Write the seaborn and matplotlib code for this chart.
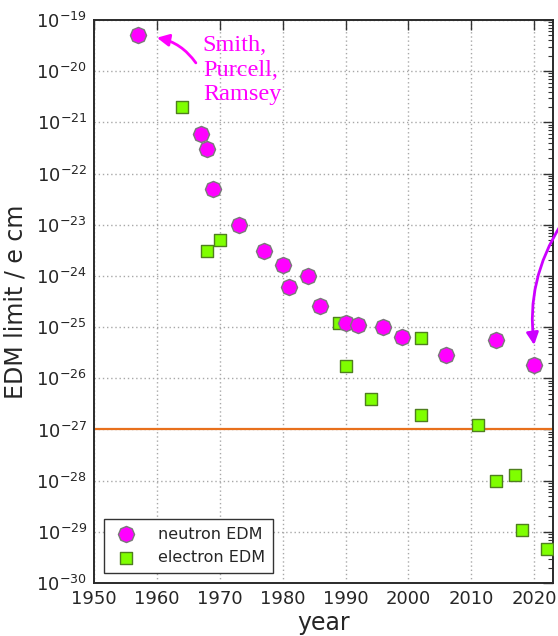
import matplotlib
matplotlib.use("Agg")
import matplotlib.pyplot as plt
import seaborn as sns
import pandas as pd
from matplotlib.ticker import FixedLocator, LogLocator, NullFormatter

# ---- data ----
neutron_year = [1957, 1967, 1968, 1969, 1973, 1977, 1980, 1981, 1984, 1986,
                1990, 1992, 1996, 1999, 2006, 2014, 2020]
neutron_limit = [5e-20, 6e-22, 3e-22, 5e-23, 1e-23, 3e-24, 1.6e-24, 6e-25, 1e-24, 2.6e-25,
                 1.2e-25, 1.1e-25, 1e-25, 6.3e-26, 2.9e-26, 5.6e-26, 1.8e-26]
electron_year = [1964, 1968, 1970, 1989, 1990, 1994, 2002, 2002, 2011, 2014, 2017, 2018, 2022]
electron_limit = [2e-21, 3e-24, 5e-24, 1.2e-25, 1.7e-26, 4e-27, 6e-26, 1.9e-27, 1.2e-27,
                  1e-28, 1.3e-28, 1.1e-29, 4.6e-30]
reference_level = 1e-27
x_ticks = [1950, 1960, 1970, 1980, 1990, 2000, 2010, 2020]
y_ticks = [1e-30, 1e-29, 1e-28, 1e-27, 1e-26, 1e-25, 1e-24, 1e-23, 1e-22, 1e-21, 1e-20, 1e-19]
series_labels = ["neutron EDM", "electron EDM"]
annotation_text = "Smith,\nPurcell,\nRamsey"

neutron_df = pd.DataFrame({"year": neutron_year, "limit": neutron_limit})
electron_df = pd.DataFrame({"year": electron_year, "limit": electron_limit})

sns.set_style("white")
plt.rcParams["font.family"] = ["DejaVu Sans"]
plt.rcParams["axes.unicode_minus"] = False

fig, ax = plt.subplots(figsize=(5.58, 6.36), dpi=100)
fig.subplots_adjust(left=0.1685, right=0.991, top=0.9686, bottom=0.0833)

octagon = (8, 0, 0)
sns.scatterplot(data=neutron_df, x="year", y="limit", marker=octagon, s=135,
                color="#ff00ff", edgecolor="#7a7a7a", linewidth=1.0,
                label=series_labels[0], ax=ax, zorder=4)
sns.scatterplot(data=electron_df, x="year", y="limit", marker="s", s=70,
                color="#7fff00", edgecolor="#4f7f1f", linewidth=1.0,
                label=series_labels[1], ax=ax, zorder=3)

ax.axhline(reference_level, color="#e8701c", lw=1.6, zorder=2)

ax.set_yscale("log")
ax.set_xlim(1950, 2023)
ax.set_ylim(1e-30, 1e-19)
ax.set_xticks(x_ticks)
ax.yaxis.set_major_locator(FixedLocator(y_ticks))
ax.yaxis.set_minor_locator(LogLocator(base=10, subs=range(2, 10), numticks=200))
ax.yaxis.set_minor_formatter(NullFormatter())

ax.grid(True, which="major", color="#a8a8a8", linestyle=(0, (1, 2)), lw=1.0)
ax.set_axisbelow(True)

ax.tick_params(which="both", direction="in", top=True, right=True, color="#333333")
ax.tick_params(which="major", length=7, width=1, labelsize=13, pad=5)
ax.tick_params(which="minor", length=3.5, width=0.8)
ax.tick_params(axis="x", which="minor", top=False, bottom=False)
for sp in ax.spines.values():
    sp.set_color("#2a2a2a")
    sp.set_linewidth(1.4)

ax.set_xlabel("year", fontsize=17, labelpad=2)
ax.set_ylabel("EDM limit / e cm", fontsize=17, labelpad=6)

leg = ax.legend(loc="lower left", fontsize=11.5, frameon=True, fancybox=False,
                edgecolor="#333333", framealpha=1, borderaxespad=0.6,
                handletextpad=1.1, handlelength=1.8, borderpad=0.5,
                labelspacing=0.55, scatterpoints=1)
leg.get_frame().set_linewidth(1.0)

ax.text(1967.3, 5.0e-20, annotation_text, color="#ff00ff", fontsize=17.5,
        family="Liberation Serif", va="top", ha="left", linespacing=1.2)
ax.annotate("", xy=(1960.0, 4.5e-20), xytext=(1966.2, 1.45e-20),
            arrowprops=dict(arrowstyle="-|>", color="#ff00ff", lw=2,
                            connectionstyle="arc3,rad=0.2", mutation_scale=18,
                            shrinkA=0, shrinkB=0))
ax.annotate("", xy=(2020.0, 10 ** -25.35), xycoords="data",
            xytext=(1.005, 0.646), textcoords="figure fraction",
            arrowprops=dict(arrowstyle="-|>", color="#cc00ff", lw=2,
                            connectionstyle="arc3,rad=0.18", mutation_scale=18,
                            shrinkA=0, shrinkB=0),
            annotation_clip=False)

fig.savefig("out.png", dpi=100)
